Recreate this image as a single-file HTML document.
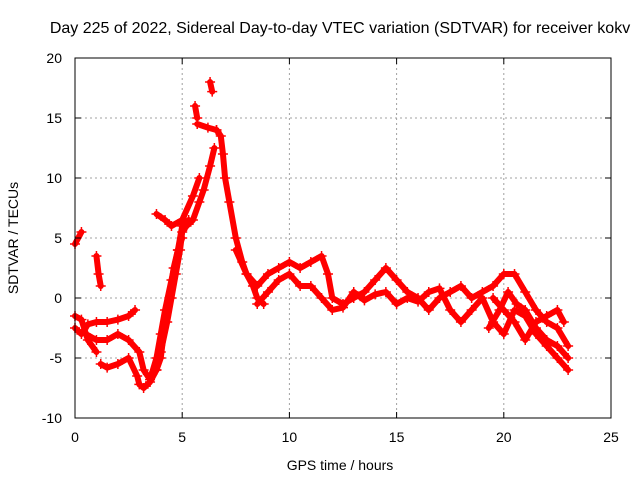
<!DOCTYPE html>
<html><head><meta charset="utf-8"><style>
body{margin:0;background:#fff}
svg{display:block;font-family:"Liberation Sans",sans-serif}
</style></head><body>
<svg id="chart" width="640" height="480" viewBox="0 0 640 480" xmlns="http://www.w3.org/2000/svg">
<text x="340" y="33" font-size="16" text-anchor="middle">Day 225 of 2022, Sidereal Day-to-day VTEC variation (SDTVAR) for receiver kokv</text>
<g id="grid"></g>
<g id="series"></g>
<rect x="75" y="58" width="536" height="360" fill="none" stroke="#000" stroke-width="1"/>
<g id="axes"></g>
<text x="340" y="470" font-size="14" text-anchor="middle">GPS time / hours</text>
<text x="18" y="238" font-size="14" text-anchor="middle" transform="rotate(-90 18 238)">SDTVAR / TECUs</text>
</svg>
<script>
const xTicks=[0,5,10,15,20,25];
const yTicks=[-10,-5,0,5,10,15,20];
const tracks=[
[[1.2,-5.5],[1.5,-5.8],[2.0,-5.5],[2.5,-5.0],[2.9,-6.5],[3.0,-7.2],[3.2,-7.5],[3.5,-7.0],[3.8,-6.0],[4.0,-4.5],[4.3,-2],[4.5,0],[4.7,2],[4.9,4],[5.0,5.5],[5.2,6],[5.5,6.5],[5.8,8],[6.0,9],[6.3,11],[6.5,12.5]],
[[0.5,-3],[1.0,-3.5],[1.5,-3.5],[2.0,-3],[2.5,-3.5],[3.0,-4.5],[3.2,-6],[3.5,-6.8],[3.8,-5],[4.0,-3],[4.2,-1],[4.5,1.5],[4.8,4],[5.0,6],[5.3,6.5]],
[[3.5,-6.5],[3.8,-6],[4.0,-5],[4.2,-2],[4.4,0],[4.6,2.5],[4.8,4],[5.0,5]],
[[0,-2.5],[0.3,-3],[0.6,-2.2],[1.0,-2],[1.5,-2],[2.0,-1.8],[2.5,-1.5],[2.8,-1]],
[[0,-1.5],[0.3,-1.8],[0.6,-3.5],[1.0,-4.5]],
[[6.6,14],[6.8,13.5],[6.9,12],[7.0,10],[7.2,8],[7.5,5],[7.8,3],[8.0,2],[8.3,1],[8.5,0],[8.8,-0.5]],
[[3.8,7],[4.2,6.5],[4.5,6],[5.0,6.5],[5.5,8.5],[5.8,10]],
[[0,4.5],[0.3,5.5]],
[[1.0,3.5],[1.1,2],[1.2,1]],
[[5.7,14.5],[6.2,14.2],[6.6,14]],
[[5.6,16],[5.7,15]],
[[6.3,18],[6.4,17.2]],
[[7.5,4],[8,2],[8.5,1],[9,2],[9.5,2.5],[10,3],[10.5,2.5],[11,3],[11.5,3.5],[11.8,2],[12,0],[12.5,-0.5],[13,0],[13.5,0.5],[14,1.5],[14.5,2.5],[15,1.5],[15.5,0.5],[16,0],[16.5,-1],[17,0],[17.5,0.5],[18,1],[18.5,0],[19,0.5],[19.5,1],[20,2],[20.5,2],[21,0.5],[21.5,-1],[22,-2],[22.5,-2.5],[23,-4]],
[[8.5,-0.5],[9,0.5],[9.5,1.5],[10,2],[10.5,1],[11,1],[11.5,0],[12,-1],[12.5,-0.8],[13,0.5],[13.5,-0.2],[14,0.3],[14.5,0.5],[15,-0.5],[15.5,0],[16,-0.3],[16.5,0.5],[17,0.8],[17.5,-1],[18,-2],[18.5,-1],[19,0],[19.5,-2],[20,-3],[20.5,-1],[21,-1.5],[21.5,-3],[22,-4],[22.5,-5],[23,-6]],
[[19.5,0],[20,-1],[20.5,-2],[21,-3.5],[21.5,-2],[22,-1.5],[22.5,-1],[22.8,-2]],
[[19.3,-2.5],[19.8,-1],[20.2,0.5],[20.6,-0.5],[21,-1],[21.5,-2.5],[22,-3.5],[22.5,-4],[23,-5]]
];
const NS="http://www.w3.org/2000/svg";
const X=v=>75+v*(536/25);
const Y=v=>298-v*12;
const grid=document.getElementById('grid'),axes=document.getElementById('axes'),ser=document.getElementById('series');
function mk(t,a,p){const e=document.createElementNS(NS,t);for(const k in a)e.setAttribute(k,a[k]);p.appendChild(e);return e;}
xTicks.forEach(t=>{
 if(t>0&&t<25){const g=mk('line',{x1:X(t),x2:X(t),y1:58,y2:418,stroke:'#a0a0a0','stroke-dasharray':'2,3'},grid);
 
 }
 const tk=mk('line',{x1:X(t),x2:X(t),y1:418,y2:412,stroke:'#000'},axes);
 
 
 const tt=mk('line',{x1:X(t),x2:X(t),y1:58,y2:64,stroke:'#000'},axes);
 
 
 const l=mk('text',{x:X(t),y:442,'font-size':14,'text-anchor':'middle'},axes);l.textContent=t;
 
 
});
yTicks.forEach(t=>{
 if(t>-10&&t<20){const g=mk('line',{x1:75,x2:611,y1:Y(t),y2:Y(t),stroke:'#a0a0a0','stroke-dasharray':'2,3'},grid);
 
 }
 const tk=mk('line',{x1:75,x2:81,y1:Y(t),y2:Y(t),stroke:'#000'},axes);
 
 
 const tr=mk('line',{x1:605,x2:611,y1:Y(t),y2:Y(t),stroke:'#000'},axes);
 
 
 const l=mk('text',{x:62,y:Y(t)+5,'font-size':14,'text-anchor':'end'},axes);l.textContent=t;
 
 
});
tracks.forEach(tr=>{
 const pl=mk('polyline',{points:tr.map(p=>X(p[0])+','+Y(p[1])).join(' '),fill:'none',stroke:'#f00','stroke-width':6,'stroke-linejoin':'round','stroke-linecap':'round'},ser);
 
 
 tr.forEach(p=>{
  const m=mk('path',{d:`M${X(p[0])-5},${Y(p[1])}h10M${X(p[0])},${Y(p[1])-5}v10`,stroke:'#f00','stroke-width':1.5},ser);
  
  
 });
});
</script>
</body></html>
